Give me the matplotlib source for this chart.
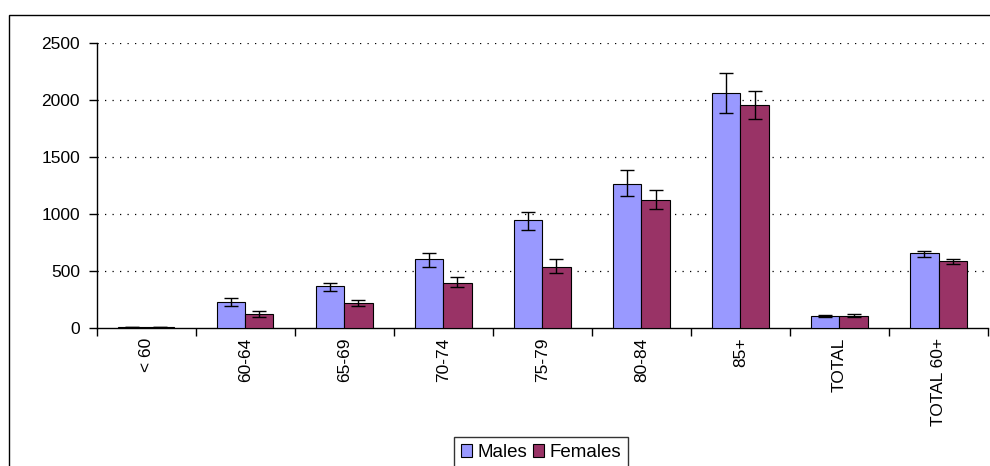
import numpy as np
import matplotlib
matplotlib.use('Agg')
import matplotlib.pyplot as plt
from matplotlib.patches import Rectangle

plt.rcParams['font.family'] = ['Liberation Sans', 'DejaVu Sans']

# data
categories = ['< 60', '60-64', '65-69', '70-74', '75-79', '80-84', '85+', 'TOTAL', 'TOTAL 60+']
males = [8, 223, 363, 604, 946, 1263, 2066, 103, 653]
males_lo = [8, 190, 322, 536, 856, 1157, 1884, 97, 624]
males_hi = [8, 258, 396, 653, 1020, 1389, 2241, 109, 677]
females = [8, 120, 220, 396, 536, 1119, 1957, 103, 586]
females_lo = [8, 91, 190, 360, 483, 1046, 1834, 91, 563]
females_hi = [8, 144, 243, 445, 604, 1210, 2077, 117, 604]

male_col = '#9999FF'
female_col = '#993366'

fig = plt.figure(figsize=(9.9, 4.66), dpi=100)
ax = fig.add_axes([0.0977, 0.2968, 0.9003, 0.6102])

# outer chart frame (runs off the right and bottom of the picture)
fig.patches.append(Rectangle((9 / 990, -0.05), 1.2, 1 - 15 / 466 + 0.05,
                             transform=fig.transFigure, fill=False,
                             edgecolor='black', linewidth=1.0, zorder=0))

x = np.arange(len(categories))
w = 0.285
m_err = [np.array(males) - np.array(males_lo), np.array(males_hi) - np.array(males)]
f_err = [np.array(females) - np.array(females_lo), np.array(females_hi) - np.array(females)]

ax.bar(x - w / 2, males, w, color=male_col, edgecolor='black', linewidth=0.8,
       label='Males', zorder=3)
ax.bar(x + w / 2, females, w, color=female_col, edgecolor='black', linewidth=0.8,
       label='Females', zorder=3)
ax.errorbar(x - w / 2, males, yerr=m_err, fmt='none', ecolor='black',
            elinewidth=1, capsize=5, capthick=1, zorder=4)
ax.errorbar(x + w / 2, females, yerr=f_err, fmt='none', ecolor='black',
            elinewidth=1, capsize=5, capthick=1, zorder=4)

ax.set_xlim(-0.5, len(categories) - 0.5)
ax.set_ylim(0, 2500)
ax.set_yticks(np.arange(0, 2501, 500))
for v in range(500, 2501, 500):
    ax.axhline(v, color='black', linewidth=0.9, linestyle=(0, (1, 5)), zorder=1)

ax.set_xticks(x)
ax.set_xticklabels(categories, rotation=90, fontsize=12.5)
ax.tick_params(axis='x', length=0, pad=7)
ax.set_xticks(np.arange(-0.5, len(categories), 1), minor=True)
ax.tick_params(axis='x', which='minor', length=6, width=1, direction='out')
ax.tick_params(axis='y', labelsize=12.5, length=6, width=1, direction='out', pad=6)

for s in ['top', 'right']:
    ax.spines[s].set_visible(False)
ax.spines['left'].set_linewidth(1)
ax.spines['bottom'].set_linewidth(1)

leg = fig.legend(loc='upper center', bbox_to_anchor=(541 / 990, 1 - 437 / 466), ncol=2,
                 fontsize=13.5, frameon=True, fancybox=False, edgecolor='black',
                 handlelength=0.6, handleheight=0.7, handletextpad=0.3,
                 columnspacing=0.3, borderpad=0.35, borderaxespad=0)
leg.get_frame().set_linewidth(1)

fig.savefig('out.png', dpi=100)
